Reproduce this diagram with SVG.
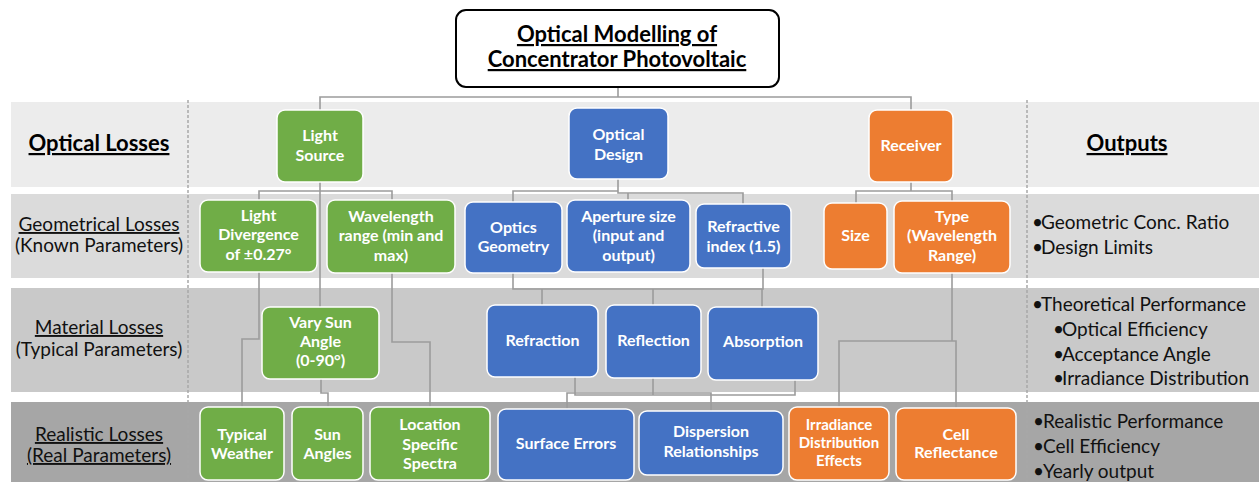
<svg xmlns="http://www.w3.org/2000/svg" width="1259" height="482" viewBox="0 0 1259 482">
<style>
.band{stroke:none}
.dash{stroke:#a8a8a8;stroke-width:1.5;stroke-dasharray:3 2;fill:none}
.conn path{fill:none;stroke:#9c9c9c;stroke-width:1.6}
.box{stroke:#ffffff;stroke-width:1.5}
.g{fill:#70ad47}
.b{fill:#4472c4}
.o{fill:#ed7d31}
.t{font-family:Lato,"Open Sans","Liberation Sans",sans-serif;font-weight:bold;font-size:16px;fill:#ffffff;text-anchor:middle}
.lbl{font-family:Lato,"Open Sans","Liberation Sans",sans-serif;font-size:19px;fill:#111111;text-anchor:middle}
.hd{font-family:Lato,"Open Sans","Liberation Sans",sans-serif;font-size:22px;font-weight:bold;fill:#000000;text-anchor:middle;text-decoration:underline}
.out{font-family:Lato,"Open Sans","Liberation Sans",sans-serif;font-size:19px;fill:#111111}
.u{text-decoration:underline}
</style>
<rect width="1259" height="482" fill="#ffffff"/>
<g id="bands">
<rect class="band" x="11" y="102" width="1248" height="85" fill="#ececec"/>
<rect class="band" x="11" y="194" width="1248" height="84" fill="#dbdbdb"/>
<rect class="band" x="11" y="288" width="1248" height="104" fill="#c9c9c9"/>
<rect class="band" x="11" y="402" width="1248" height="80" fill="#a6a6a6"/>
<line class="dash" x1="188" y1="100" x2="188" y2="482"/>
<line class="dash" x1="1027" y1="100" x2="1027" y2="482"/>
</g>
<g id="row-labels">
<text class="hd" x="99" y="151">Optical Losses</text>
<text class="lbl u" x="99" y="231">Geometrical Losses</text>
<text class="lbl" x="99" y="252">(Known Parameters)</text>
<text class="lbl u" x="99" y="334">Material Losses</text>
<text class="lbl" x="99" y="356">(Typical Parameters)</text>
<text class="lbl u" x="99" y="441">Realistic Losses</text>
<text class="lbl u" x="99" y="462">(Real Parameters)</text>
</g>
<g id="outputs">
<text class="hd" x="1127" y="151">Outputs</text>
<text class="out" x="1032" y="229">•</text><text class="out" x="1041" y="229">Geometric Conc. Ratio</text>
<text class="out" x="1032" y="254">•</text><text class="out" x="1041" y="254">Design Limits</text>
<text class="out" x="1032" y="311">•</text><text class="out" x="1041" y="311">Theoretical Performance</text>
<text class="out" x="1053" y="336">•</text><text class="out" x="1062" y="336">Optical Efficiency</text>
<text class="out" x="1053" y="361">•</text><text class="out" x="1062" y="361">Acceptance Angle</text>
<text class="out" x="1053" y="385">•</text><text class="out" x="1062" y="385">Irradiance Distribution</text>
<text class="out" x="1033" y="428">•</text><text class="out" x="1043" y="428">Realistic Performance</text>
<text class="out" x="1033" y="453">•</text><text class="out" x="1043" y="453">Cell Efficiency</text>
<text class="out" x="1033" y="478">•</text><text class="out" x="1043" y="478">Yearly output</text>
</g>
<g class="conn" id="connectors">
<path d="M618 87 V97 M320 110 V97 H911 V110"/>
<path d="M320 182 V307 M259 200 V191 H392 V200"/>
<path d="M259 272 V339 H242 V407"/>
<path d="M392 273 V342 H430 V407"/>
<path d="M321 379 V393 H328 V407"/>
<path d="M618 179 V191 H513 V202 M618 191 V193 H743 V204 M628 193 V200"/>
<path d="M513 273 V289 H763 V268 M542 289 V305 M653 289 V305 M762 289 V307"/>
<path d="M575 377 V395 H795 V380 M653 378 V395 M567 409 V393 H711 V411"/>
<path d="M911 182 V191 H856 V203 M911 191 H952 V201"/>
<path d="M952 273 V341 H839 V407 M952 341 H956 V408"/>
</g>
<g id="title">
<rect x="456" y="10" width="323" height="77" rx="10" fill="#ffffff" stroke="#000000" stroke-width="2"/>
<text class="hd" x="617" y="42">Optical Modelling of</text>
<text class="hd" x="617" y="67">Concentrator Photovoltaic</text>
</g>
<g id="light-source"><rect class="box g" x="277" y="110" width="86" height="72" rx="8"/><text class="t" x="320" y="141">Light</text><text class="t" x="320" y="161">Source</text></g>
<g id="optical-design"><rect class="box b" x="569" y="108" width="99" height="71" rx="8"/><text class="t" x="618.5" y="140">Optical</text><text class="t" x="618.5" y="160">Design</text></g>
<g id="receiver"><rect class="box o" x="869" y="110" width="84" height="72" rx="8"/><text class="t" x="911" y="151">Receiver</text></g>
<g id="light-divergence"><rect class="box g" x="200" y="200" width="117" height="72" rx="8"/><text class="t" x="258.5" y="221">Light</text><text class="t" x="258.5" y="240">Divergence</text><text class="t" x="258.5" y="260">of ±0.27°</text></g>
<g id="wavelength-range"><rect class="box g" x="327" y="200" width="128" height="73" rx="8"/><text class="t" x="391" y="222">Wavelength</text><text class="t" x="391" y="241">range (min and</text><text class="t" x="391" y="261">max)</text></g>
<g id="optics-geometry"><rect class="box b" x="465" y="202" width="97" height="71" rx="8"/><text class="t" x="513.5" y="233">Optics</text><text class="t" x="513.5" y="252">Geometry</text></g>
<g id="aperture-size"><rect class="box b" x="567" y="200" width="123" height="72" rx="8"/><text class="t" x="628.5" y="222">Aperture size</text><text class="t" x="628.5" y="241">(input and</text><text class="t" x="628.5" y="261">output)</text></g>
<g id="refractive-index"><rect class="box b" x="696" y="204" width="95" height="64" rx="8"/><text class="t" x="743.5" y="232">Refractive</text><text class="t" x="743.5" y="252">index (1.5)</text></g>
<g id="size"><rect class="box o" x="824" y="203" width="63" height="66" rx="8"/><text class="t" x="855.5" y="241">Size</text></g>
<g id="type"><rect class="box o" x="894" y="201" width="116" height="72" rx="8"/><text class="t" x="952" y="222">Type</text><text class="t" x="952" y="241">(Wavelength</text><text class="t" x="952" y="261">Range)</text></g>
<g id="vary-sun-angle"><rect class="box g" x="262" y="307" width="117" height="72" rx="8"/><text class="t" x="320.5" y="328">Vary Sun</text><text class="t" x="320.5" y="347">Angle</text><text class="t" x="320.5" y="366">(0-90°)</text></g>
<g id="refraction"><rect class="box b" x="487" y="305" width="111" height="72" rx="8"/><text class="t" x="542.5" y="346">Refraction</text></g>
<g id="reflection"><rect class="box b" x="606" y="305" width="95" height="73" rx="8"/><text class="t" x="653.5" y="346">Reflection</text></g>
<g id="absorption"><rect class="box b" x="708" y="307" width="110" height="73" rx="8"/><text class="t" x="763" y="347">Absorption</text></g>
<g id="typical-weather"><rect class="box g" x="200" y="407" width="84" height="73" rx="8"/><text class="t" x="242" y="440">Typical</text><text class="t" x="242" y="459">Weather</text></g>
<g id="sun-angles"><rect class="box g" x="292" y="407" width="71" height="73" rx="8"/><text class="t" x="327.5" y="440">Sun</text><text class="t" x="327.5" y="459">Angles</text></g>
<g id="location-spectra"><rect class="box g" x="370" y="407" width="120" height="73" rx="8"/><text class="t" x="430" y="430">Location</text><text class="t" x="430" y="450">Specific</text><text class="t" x="430" y="469">Spectra</text></g>
<g id="surface-errors"><rect class="box b" x="498" y="409" width="136" height="71" rx="8"/><text class="t" x="566" y="449">Surface Errors</text></g>
<g id="dispersion"><rect class="box b" x="639" y="411" width="144" height="64" rx="8"/><text class="t" x="711" y="437">Dispersion</text><text class="t" x="711" y="457">Relationships</text></g>
<g id="irradiance-effects"><rect class="box o" x="789" y="407" width="100" height="73" rx="8"/><text class="t" x="839" y="430" style="font-size:15px">Irradiance</text><text class="t" x="839" y="448" style="font-size:15px">Distribution</text><text class="t" x="839" y="466" style="font-size:15px">Effects</text></g>
<g id="cell-reflectance"><rect class="box o" x="896" y="408" width="120" height="72" rx="8"/><text class="t" x="956" y="440">Cell</text><text class="t" x="956" y="458">Reflectance</text></g>
</svg>
